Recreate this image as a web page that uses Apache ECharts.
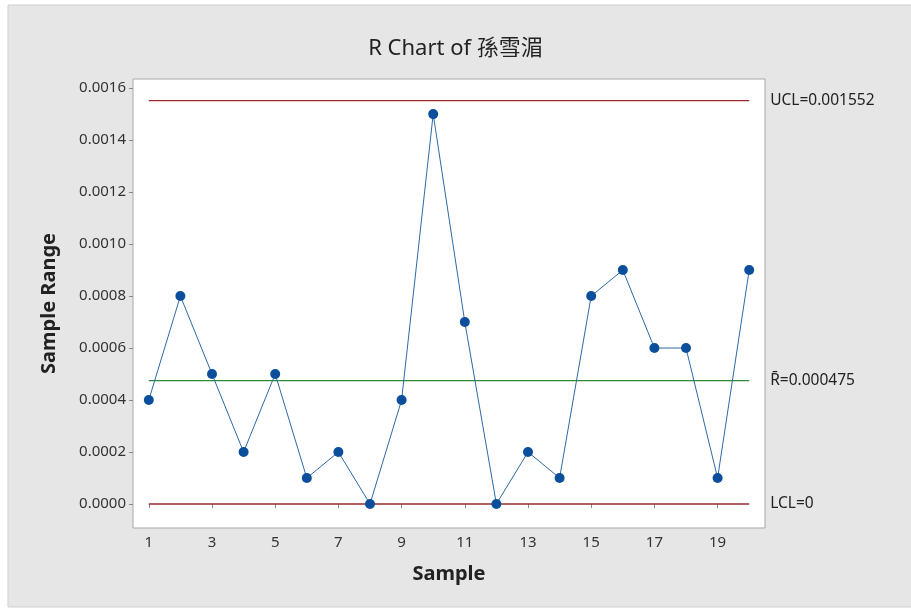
<!DOCTYPE html>
<html>
<head>
<meta charset="utf-8">
<script src="https://cdn.jsdelivr.net/npm/echarts@6/dist/echarts.min.js"></script>
<style>
  html, body { margin: 0; padding: 0; background: #fff; }
  #chart { width: 911px; height: 612px; }
</style>
</head>
<body>
<div id="chart"></div>
<script>
// sample ranges
const samples = [1, 2, 3, 4, 5, 6, 7, 8, 9, 10, 11, 12, 13, 14, 15, 16, 17, 18, 19, 20];
const ranges = [0.0004, 0.0008, 0.0005, 0.0002, 0.0005, 0.0001, 0.0002, 0.0000, 0.0004, 0.0015,
                0.0007, 0.0000, 0.0002, 0.0001, 0.0008, 0.0009, 0.0006, 0.0006, 0.0001, 0.0009];
const ucl = 0.001552;
const rbar = 0.000475;
const lcl = 0;
const xTicks = [1, 3, 5, 7, 9, 11, 13, 15, 17, 19];
const yTicks = [0, 0.0002, 0.0004, 0.0006, 0.0008, 0.0010, 0.0012, 0.0014, 0.0016];

const font = "'Noto Sans', 'Noto Sans CJK TC', sans-serif";

const limitSeries = (val, label, color) => ({
    type: 'line',
    data: [[samples[0], val], [samples[samples.length - 1], val]],
    symbol: 'none',
    silent: true,
    lineStyle: { color: color, width: 1.3 },
    endLabel: {
        show: true,
        formatter: label,
        distance: 21,
        color: '#222',
        fontSize: 15.5,
        fontFamily: font
    },
    z: 1
});

const chart = echarts.init(document.getElementById('chart'));
chart.setOption({
    backgroundColor: '#fff',
    animation: false,
    graphic: [{
        type: 'rect',
        shape: { x: 8, y: 5, width: 910, height: 602 },
        style: { fill: '#e6e6e6', stroke: '#cfcfcf', lineWidth: 1 },
        z: -10
    }],
    title: {
        text: 'R Chart of 孫雪湄',
        left: 'center',
        top: 33,
        textStyle: { fontFamily: font, fontSize: 22, fontWeight: 'normal', color: '#222' }
    },
    grid: {
        left: 133, top: 79, right: 146, bottom: 84,
        show: true,
        backgroundColor: '#fff',
        borderColor: '#a8a8a8',
        borderWidth: 1
    },
    xAxis: {
        type: 'value',
        min: 0.5,
        max: 20.5,
        name: 'Sample',
        nameLocation: 'middle',
        nameGap: 36,
        nameTextStyle: { fontFamily: font, fontSize: 20, fontWeight: 'bold', color: '#222' },
        splitLine: { show: false },
        axisLine: { show: false },
        axisTick: { show: true, customValues: xTicks, length: 4, lineStyle: { color: '#888' } },
        axisLabel: { customValues: xTicks, fontFamily: font, fontSize: 15, color: '#333', margin: 7 }
    },
    yAxis: {
        type: 'value',
        min: -0.0000923,
        max: 0.001635,
        name: 'Sample Range',
        nameLocation: 'middle',
        nameGap: 74,
        nameTextStyle: { fontFamily: font, fontSize: 20, fontWeight: 'bold', color: '#222' },
        splitLine: { show: false },
        axisLine: { show: false },
        axisTick: { show: true, customValues: yTicks, length: 4, lineStyle: { color: '#888' } },
        axisLabel: {
            customValues: yTicks,
            fontFamily: font, fontSize: 15, color: '#333', margin: 7,
            formatter: v => v.toFixed(4)
        }
    },
    series: [
        limitSeries(ucl, 'UCL=0.001552', '#9b2b2f'),
        limitSeries(rbar, 'R\u0304=0.000475', '#2e8b3e'),
        limitSeries(lcl, 'LCL=0', '#9b2b2f'),
        {
            type: 'line',
            data: samples.map((s, i) => [s, ranges[i]]),
            symbol: 'circle',
            symbolSize: 10,
            itemStyle: { color: '#0b4f9c' },
            lineStyle: { color: '#2d6aa6', width: 1 },
            z: 3
        }
    ]
});
</script>
</body>
</html>
